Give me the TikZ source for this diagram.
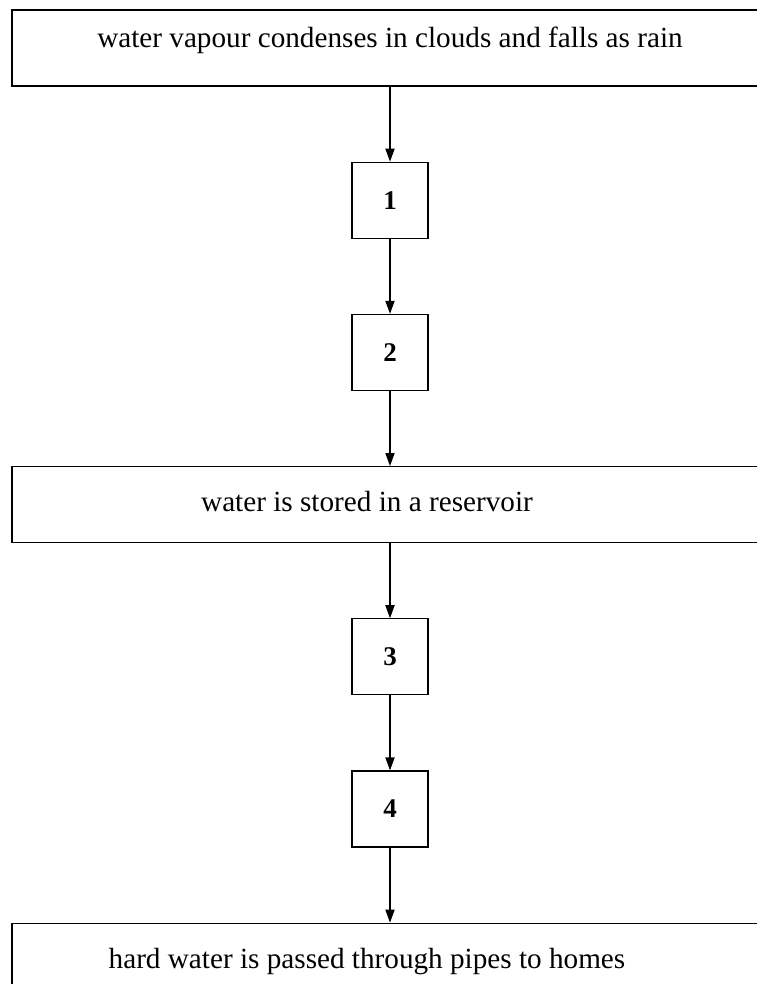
\documentclass[tikz,border=0pt]{standalone}
\usepackage{fontspec}
\setmainfont{Liberation Serif}
\usetikzlibrary{positioning,arrows.meta}
\newcommand{\stepfont}{\fontsize{13.5}{15}\selectfont\bfseries}

\begin{document}
\begin{tikzpicture}[
	node distance=37.5pt,
	font=\fontsize{14.6}{17}\selectfont,
	wide/.style={draw, line width=0.6pt, minimum width=378pt, minimum height=38pt, inner sep=0pt, text height=10pt, text depth=3pt},
	leftish/.style={execute at end node={\hspace*{23pt}}},
	stepbox/.style={draw, line width=0.6pt, minimum width=38pt, minimum height=38pt, inner sep=0pt, font=\stepfont},
	flow/.style={-{Triangle[width=4.6pt,length=6.5pt]}, line width=0.6pt}
	]
	\useasboundingbox (-195pt,24pt) rectangle (183pt,-468pt);
	
	\node[wide, text depth=10pt] (rain) {water vapour condenses in clouds and falls as rain};
	\node[stepbox, below=of rain] (s1) {1};
	\node[stepbox, below=of s1] (s2) {2};
	\node[wide, leftish, below=of s2] (store) {water is stored in a reservoir};
	\node[stepbox, below=of store] (s3) {3};
	\node[stepbox, below=of s3] (s4) {4};
	\node[wide, leftish, below=of s4] (homes) {hard water is passed through pipes to homes};
	
	\draw[flow] (rain) -- (s1);
	\draw[flow] (s1) -- (s2);
	\draw[flow] (s2) -- (store);
	\draw[flow] (store) -- (s3);
	\draw[flow] (s3) -- (s4);
	\draw[flow] (s4) -- (homes);
\end{tikzpicture}
\end{document}
